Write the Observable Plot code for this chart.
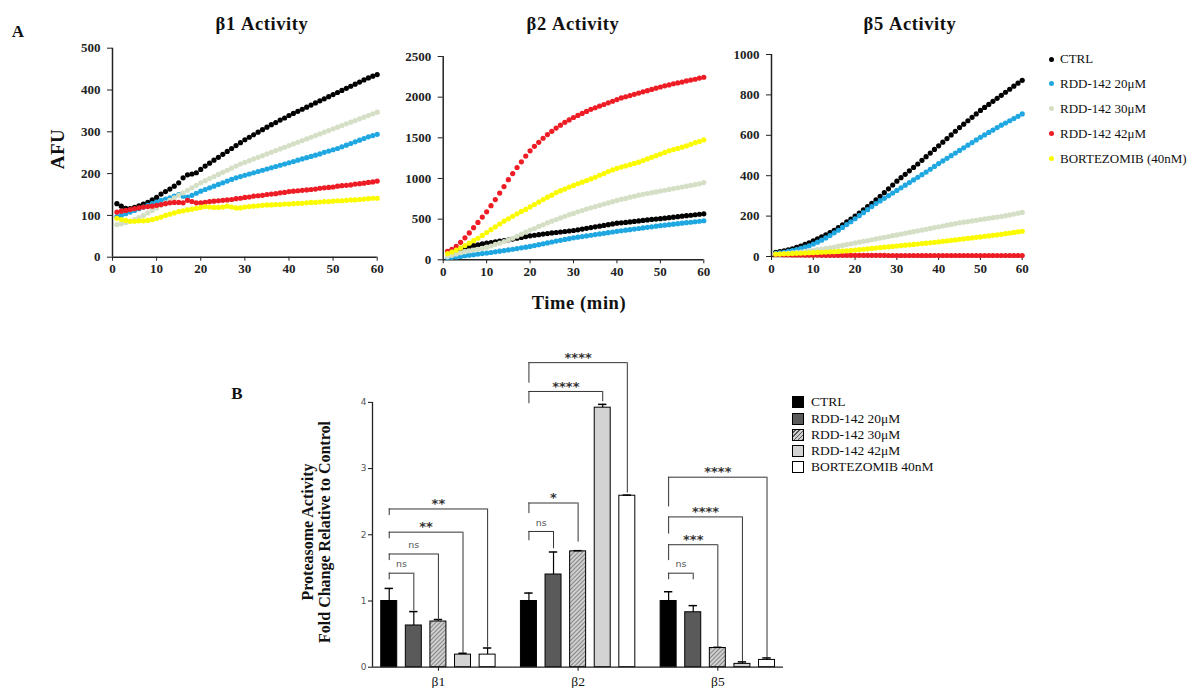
<!DOCTYPE html>
<html><head><meta charset="utf-8">
<script src="https://cdn.jsdelivr.net/npm/d3@7"></script>
<script src="https://cdn.jsdelivr.net/npm/@observablehq/plot@0.6"></script>
<style>
body{margin:0;background:#fff;}
#fig{position:relative;width:1195px;height:688px;overflow:hidden;font-family:"Liberation Serif",serif;color:#111;}
.abs{position:absolute;white-space:nowrap;}
.c{transform:translate(-50%,-50%);}
.rot{transform:translate(-50%,-50%) rotate(-90deg);}
.ttl{font-weight:bold;font-size:18.5px;letter-spacing:0.6px;}
.lgA{font-size:13px;}
.dotA{position:absolute;width:5px;height:5px;border-radius:50%;}
.sqB{position:absolute;width:10px;height:10px;border:1px solid #000;}
</style></head>
<body><div id="fig"></div>
<script>
// ---------- DATA: Panel A (AFU vs time, min) ----------
const minutes = [1,2,3,4,5,6,7,8,9,10,11,12,13,14,15,16,17,18,19,20,21,22,23,24,25,26,27,28,29,30,31,32,33,34,35,36,37,38,39,40,41,42,43,44,45,46,47,48,49,50,51,52,53,54,55,56,57,58,59,60];
const seriesNames = ["CTRL","RDD-142 20μM","RDD-142 30μM","RDD-142 42μM","BORTEZOMIB (40nM)"];
const seriesColors = ["#000000","#1ea7e1","#d5dfc5","#ee1c24","#fbfb00"];

const b1Ctrl = [128,122,117,116,119,123,127,131,137,143, 151,157,163,170,178,190,197,199,202,210, 218,225,232,239,246,253,260,267,274,281, 287,293,299,305,311,317,322,328,333,339, 344,349,354,359,364,369,374,379,384,389, 394,399,404,409,414,419,424,429,433,437];
const b1R20 = [97,100,104,108,112,116,120,124,128,132, 136,139,142,146,150,146,144,148,153,158, 162,166,170,174,178,182,186,190,193,196, 199,202,205,208,211,214,217,220,223,226, 229,232,235,238,241,244,247,251,254,257, 260,264,268,272,276,280,284,288,291,294];
const b1R30 = [78,80,83,86,90,95,100,106,112,118, 124,130,136,142,148,154,160,166,172,178, 183,188,193,198,203,208,213,218,223,227, 231,235,239,243,247,251,255,259,263,267, 271,275,279,283,287,291,295,299,303,307, 311,315,319,323,327,331,335,339,343,347];
const b1R42 = [108,110,112,114,116,118,120,121,122,124, 126,128,130,131,131,130,136,133,130,130, 131,133,134,135,136,137,138,140,141,143, 144,146,147,148,150,151,152,154,155,157, 158,159,160,161,162,163,165,166,167,168, 170,171,172,173,175,176,177,179,180,182];
const b1Bort = [93,90,88,86,86,87,87,88,90,93, 96,100,103,106,109,111,113,115,117,119, 121,120,119,119,120,122,120,118,118,120, 121,122,123,124,125,125,126,126,127,127, 128,129,129,130,131,131,132,133,133,134, 135,135,136,137,137,138,139,140,141,141];

const b2Ctrl = [95,110,125,140,155,165,175,185,195,205, 213,221,229,237,245,255,265,275,285,295, 302,309,316,323,330,336,342,348,354,360, 369,378,387,396,405,414,423,432,441,450, 455,460,466,472,478,484,490,496,501,506, 512,518,524,530,536,542,548,554,560,565];
const b2R20 = [25,30,35,42,50,57,63,70,76,82, 90,98,106,114,122,130,138,147,155,164, 175,186,197,208,219,230,240,250,260,270, 278,286,294,302,310,318,326,334,342,350, 357,364,371,378,385,392,399,406,413,420, 426,432,438,444,450,456,462,468,474,480];
const b2R30 = [40,55,70,85,100,110,120,130,140,155, 170,190,205,225,245,265,290,315,340,365, 385,410,430,455,475,495,515,535,555,570, 590,605,625,640,655,670,685,700,715,730, 745,755,770,780,795,805,815,825,835,845, 855,865,875,885,895,905,915,925,935,950];
const b2R42 = [105,130,165,215,270,330,395,460,525,590, 665,740,820,900,985,1060,1135,1205,1275,1340, 1395,1445,1495,1540,1580,1620,1655,1690,1720,1750, 1775,1800,1825,1850,1870,1890,1910,1930,1950,1970, 1990,2005,2020,2035,2050,2065,2080,2095,2110,2125, 2140,2150,2165,2175,2185,2200,2210,2220,2235,2245];
const b2Bort = [75,95,120,145,175,205,235,265,300,335, 370,405,440,475,505,535,565,595,620,650, 680,710,740,770,795,825,850,870,895,915, 935,955,975,995,1015,1040,1060,1085,1105,1125, 1140,1155,1170,1185,1200,1220,1240,1260,1280,1300, 1320,1340,1355,1370,1385,1400,1420,1440,1455,1475];

const b5Ctrl = [20,24,28,33,38,45,52,60,68,78, 87,97,107,118,130,143,157,171,185,200, 215,231,247,263,280,298,316,335,354,373, 390,407,424,441,458,476,494,512,530,548, 566,584,602,620,638,655,672,689,706,723, 738,753,768,783,798,813,828,843,858,872];
const b5R20 = [15,18,21,25,29,34,40,46,53,62, 71,81,92,104,117,130,144,158,172,187, 202,217,232,247,262,275,288,301,314,327, 340,353,366,379,392,405,418,432,446,460, 473,486,499,512,525,538,551,564,577,590, 602,614,626,638,650,661,672,683,694,706];
const b5R30 = [10,12,14,16,18,20,22,25,28,31, 34,37,40,43,47,51,55,59,63,67, 71,75,79,83,87,91,95,99,103,107, 111,115,119,123,127,131,135,139,143,147, 151,155,159,163,167,170,173,176,179,183, 186,189,192,195,198,202,206,210,214,218];
const b5R42 = [10,10,9,9,8,8,8,7,7,7, 7,6,6,6,6,6,6,6,6,6, 6,6,6,6,6,6,6,5,5,5, 5,5,5,5,5,5,5,5,5,5, 5,5,5,5,5,5,5,5,5,5, 5,5,5,5,5,5,5,5,5,5];
const b5Bort = [12,12,13,13,14,15,16,17,18,19, 20,21,22,23,24,25,27,28,30,32, 34,36,38,40,42,44,46,48,50,52, 54,56,58,60,62,64,66,68,70,72, 75,77,80,82,85,87,90,92,95,97, 100,102,105,107,110,113,116,119,122,125];

const xTicksA = [0,10,20,30,40,50,60];
const yTicksB1 = [0,100,200,300,400,500];
const yTicksB2 = [0,500,1000,1500,2000,2500];
const yTicksB5 = [0,200,400,600,800,1000];

// ---------- DATA: Panel B (fold change) ----------
const groupsB = ["β1","β2","β5"];
const treatmentsB = ["CTRL","RDD-142 20μM","RDD-142 30μM","RDD-142 42μM","BORTEZOMIB 40nM"];
const treatmentFills = ["#000000","#5a5a5a","url(#hatch)","#d3d3d3","#ffffff"];
const foldB1 = [1.00, 0.63, 0.69, 0.19, 0.19];
const errB1  = [0.19, 0.21, 0.03, 0.02, 0.10];
const foldB2 = [1.00, 1.40, 1.75, 3.92, 2.59];
const errB2  = [0.12, 0.34, 0.01, 0.05, 0.01];
const foldB5 = [1.00, 0.83, 0.29, 0.05, 0.11];
const errB5  = [0.14, 0.10, 0.01, 0.03, 0.03];
const yTicksFold = [0,1,2,3,4];

// significance brackets: group index, target treatment index, bar height, left-leg end, right-leg end, label
const brGroup = [0,0,0,0, 1,1,1,1, 2,2,2,2];
const brTarget = [1,2,3,4, 1,2,3,4, 1,2,3,4];
const brY     = [1.42,1.71,2.04,2.39, 2.05,2.48,4.165,4.60, 1.42,1.85,2.27,2.87];
const brLeft  = [1.32,1.61,1.94,2.29, 1.91,2.32,3.98,4.29, 1.32,1.61,2.01,2.42];
const brRight = [0.85,0.70,0.21,0.30, 1.79,1.89,4.01,2.63, 1.32,0.30,0.08,0.13];
const brLabel = ["ns","ns","**","**", "ns","*","****","****", "ns","***","****","****"];

// ---------- helpers ----------
const fig = document.getElementById("fig");
function addText(txt, x, y, cls, style){
  const d = document.createElement("div");
  d.className = "abs " + cls; d.textContent = txt;
  d.style.left = x+"px"; d.style.top = y+"px";
  if (style) Object.assign(d.style, style);
  fig.appendChild(d); return d;
}
function placeSvg(svg, left, top){
  const w = document.createElement("div");
  w.className = "abs"; w.style.left = left+"px"; w.style.top = top+"px";
  w.appendChild(svg); fig.appendChild(w);
}
const plain = d => String(d);
const serif = "'Liberation Serif', serif";

function scatterChart(seriesValues, yDomain, yTicks, box){
  const data = [];
  seriesValues.forEach((vals, k) => vals.forEach((v, i) => data.push({t: minutes[i], v, s: seriesNames[k]})));
  const svg = Plot.plot({
    width: box.w, height: box.h,
    marginLeft: box.ml, marginRight: box.mr, marginTop: box.mt, marginBottom: box.mb,
    style: {fontFamily: serif, fontSize: "13px", fontWeight: "bold", background: "none", overflow: "visible", color: "#222"},
    x: {domain: [0,60], ticks: xTicksA, tickFormat: plain, tickSize: 4, tickPadding: 3, label: null},
    y: {domain: yDomain, ticks: yTicks, tickFormat: plain, tickSize: 5, tickPadding: 7, label: null},
    color: {domain: seriesNames, range: seriesColors},
    marks: [
      Plot.ruleX([0], {stroke: "#222", strokeWidth: 1.5}),
      Plot.ruleY([0], {stroke: "#222", strokeWidth: 1.5}),
      Plot.dot(data, {x: "t", y: "v", fill: "s", r: 2.6})
    ]
  });
  return svg;
}

// ---------- Panel A ----------
addText("A", 18, 32, "c", {fontWeight: "bold", fontSize: "17px"});
addText("β1 Activity", 262, 24, "c ttl");
addText("β2 Activity", 573, 24, "c ttl");
addText("β5 Activity", 910, 24, "c ttl");
addText("AFU", 58, 149, "rot", {fontWeight: "bold", fontSize: "19px", letterSpacing: "0.5px"});
addText("Time (min)", 579, 303, "c", {fontWeight: "bold", fontSize: "18.5px", letterSpacing: "0.6px"});

placeSvg(scatterChart([b1Ctrl,b1R20,b1R30,b1R42,b1Bort], [0,500], yTicksB1,
  {w: 330, h: 245, ml: 52, mr: 13.3, mt: 7.7, mb: 28.3}), 60, 40);
placeSvg(scatterChart([b2Ctrl,b2R20,b2R30,b2R42,b2Bort], [0,2500], yTicksB2,
  {w: 320, h: 245, ml: 47.7, mr: 11.7, mt: 16, mb: 25.7}), 395, 40);
placeSvg(scatterChart([b5Ctrl,b5R20,b5R30,b5R42,b5Bort], [0,1000], yTicksB5,
  {w: 310, h: 245, ml: 46, mr: 13.3, mt: 14, mb: 29}), 725, 40);

const legARows = [59, 83.5, 108.5, 133.5, 158.5];
seriesNames.forEach((n, i) => {
  const d = document.createElement("div");
  d.className = "dotA"; d.style.left = "1048.5px"; d.style.top = (legARows[i]-2.5)+"px";
  d.style.background = seriesColors[i]; fig.appendChild(d);
  addText(n, 1060, legARows[i]-8, "lgA");
});

// ---------- Panel B ----------
addText("B", 237, 394, "c", {fontWeight: "bold", fontSize: "17px"});
addText("Proteasome Activity", 308, 532, "rot", {fontWeight: "bold", fontSize: "16px"});
addText("Fold Change Relative to Control", 325, 532, "rot", {fontWeight: "bold", fontSize: "16px"});

const groupStep = 5.68, halfW = 0.325, capW = 0.17;
const xDomB = [-0.68, 16.03];
const foldAll = [foldB1, foldB2, foldB5], errAll = [errB1, errB2, errB5];
const bars = [];
groupsB.forEach((g, gi) => treatmentsB.forEach((t, ti) =>
  bars.push({g, t, p: gi*groupStep + ti, v: foldAll[gi][ti], e: errAll[gi][ti]})));
const brackets = brGroup.map((gi, k) => ({
  pc: gi*groupStep, pt: gi*groupStep + brTarget[k], y: brY[k], yl: brLeft[k], yr: brRight[k], label: brLabel[k]
}));
const groupCenters = groupsB.map((g, gi) => gi*groupStep + 2);

const svgB = Plot.plot({
  width: 460, height: 348, marginLeft: 32, marginRight: 17, marginTop: 2.3, marginBottom: 21.3,
  style: {fontFamily: serif, fontSize: "13.5px", background: "none", overflow: "visible", color: "#111"},
  x: {domain: xDomB, ticks: groupCenters, tickFormat: d => groupsB[Math.round((d-2)/groupStep)], tickSize: 4, tickPadding: 5, label: null},
  y: {domain: [0, 4.9], ticks: yTicksFold, tickFormat: plain, tickSize: 4, tickPadding: 2, label: null},
  color: {domain: treatmentsB, range: treatmentFills},
  marks: [
    Plot.rectY(bars, {x1: d => d.p - halfW, x2: d => d.p + halfW, y1: 0, y2: "v", fill: "t", stroke: "#000", strokeWidth: 1}),
    Plot.ruleX(bars, {x: "p", y1: "v", y2: d => d.v + d.e, stroke: "#000", strokeWidth: 1.2}),
    Plot.ruleY(bars, {y: d => d.v + d.e, x1: d => d.p - capW, x2: d => d.p + capW, stroke: "#000", strokeWidth: 1.5}),
    Plot.ruleY(brackets, {y: "y", x1: "pc", x2: "pt", stroke: "#333", strokeWidth: 1}),
    Plot.ruleX(brackets, {x: "pc", y1: "yl", y2: "y", stroke: "#333", strokeWidth: 1}),
    Plot.ruleX(brackets, {x: "pt", y1: "yr", y2: "y", stroke: "#333", strokeWidth: 1}),
    Plot.text(brackets.filter(d => d.label === "ns"), {x: d => (d.pc + d.pt)/2, y: "y", text: "label", dy: -9, fontFamily: "DejaVu Sans", fontSize: 9.5, fill: "#555"}),
    Plot.text(brackets.filter(d => d.label !== "ns"), {x: d => (d.pc + d.pt)/2, y: "y", text: "label", dy: -5, fontFamily: "DejaVu Sans", fontSize: 13, fontWeight: "bold", fill: "#333"}),
    Plot.ruleX([xDomB[0]], {y1: 0, y2: 4, stroke: "#222", strokeWidth: 1.3}),
    Plot.ruleY([0], {stroke: "#222", strokeWidth: 1.3})
  ]
});
d3.select(svgB).insert("defs", ":first-child").html(
  '<pattern id="hatch" patternUnits="userSpaceOnUse" width="3" height="3" patternTransform="rotate(45)">' +
  '<rect width="3" height="3" fill="#cfcfcf"></rect><line x1="0" y1="0" x2="0" y2="3" stroke="#555" stroke-width="1.2"></line></pattern>');
d3.select(svgB).selectAll('[aria-label="y-axis tick label"]').attr("font-family", "DejaVu Sans").attr("font-size", 9).attr("fill", "#555");
placeSvg(svgB, 340, 340);

const legBRows = [402.3, 418.5, 434.7, 450.9, 467];
treatmentsB.forEach((n, i) => {
  const s = document.createElement("div");
  s.className = "sqB"; s.style.left = "792px"; s.style.top = (legBRows[i]-6)+"px";
  s.style.background = i === 2 ? "repeating-linear-gradient(-45deg,#555 0 1px,#cfcfcf 1px 3px)" : treatmentFills[i];
  fig.appendChild(s);
  addText(n, 811, legBRows[i]-8, "", {fontSize: "13.5px"});
});
</script>
</body></html>
